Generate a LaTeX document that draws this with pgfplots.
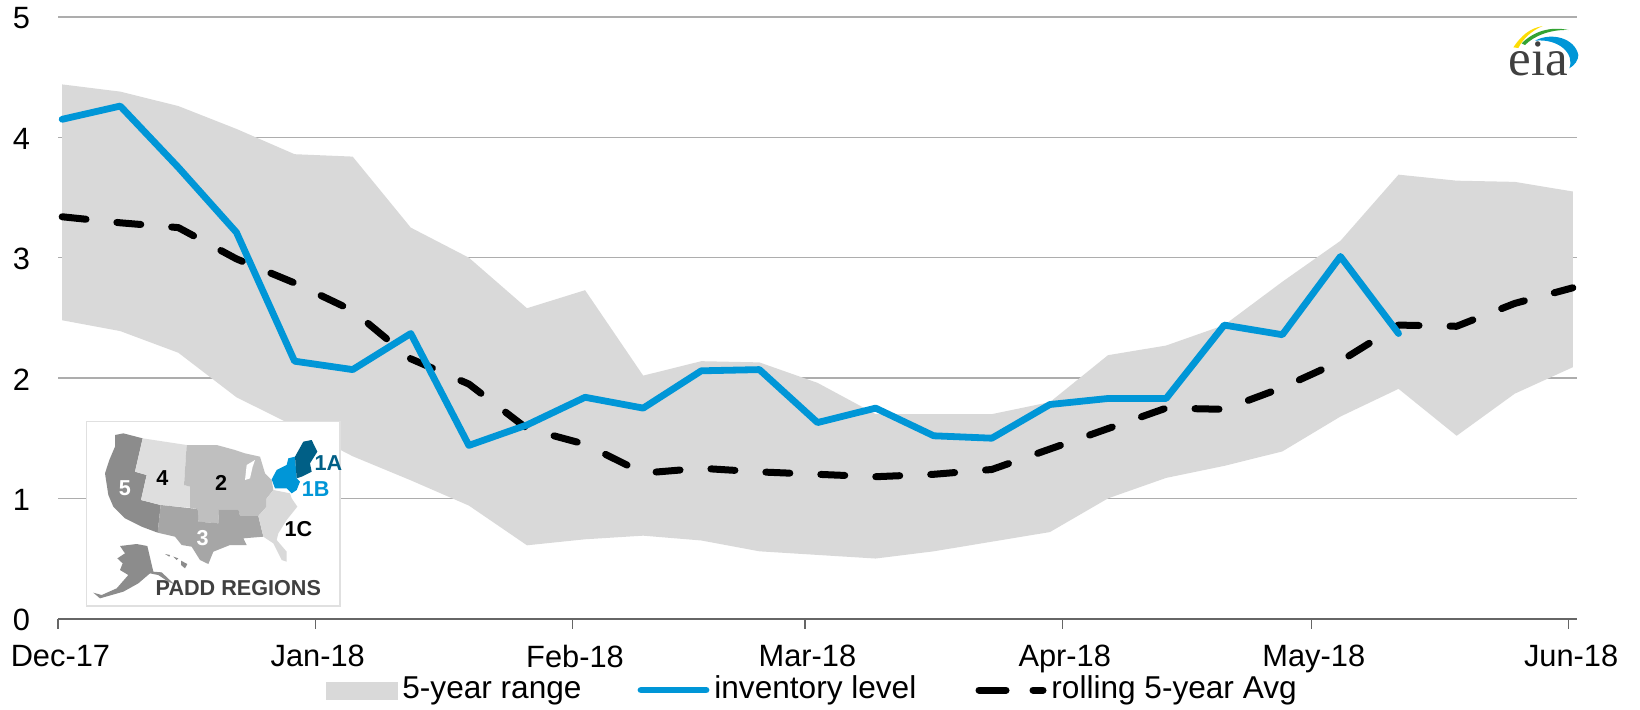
\documentclass[border=0pt]{standalone}
\usepackage{fontspec}
\setmainfont{Liberation Sans}
\newfontfamily\serif{Liberation Serif}
\usepackage{pgfplots}
\pgfplotsset{compat=1.18}
\usepgfplotslibrary{fillbetween}
\usepackage{pgfplotstable}
\definecolor{eiablue}{HTML}{0096D7}
\definecolor{eiadark}{HTML}{005F86}
\definecolor{band}{HTML}{D9D9D9}
\pgfplotstableread{
x up lo
0 4.44 2.48
7 4.38 2.39
14 4.26 2.21
21 4.07 1.84
28 3.86 1.60
35 3.84 1.35
42 3.25 1.15
49 3.00 0.94
56 2.58 0.61
63 2.73 0.66
70 2.02 0.69
77 2.14 0.65
84 2.13 0.56
91 1.96 0.53
98 1.70 0.50
105 1.70 0.56
112 1.70 0.64
119 1.80 0.72
126 2.19 1.00
133 2.27 1.17
140 2.44 1.27
147 2.80 1.39
154 3.14 1.68
161 3.69 1.91
168 3.64 1.52
175 3.63 1.87
182 3.55 2.09
}\rangetable
\pgfplotstableread{
x y
0 4.15
7 4.26
14 3.75
21 3.21
28 2.14
35 2.07
42 2.37
49 1.44
56 1.61
63 1.84
70 1.75
77 2.06
84 2.07
91 1.63
98 1.75
105 1.52
112 1.50
119 1.78
126 1.83
133 1.83
140 2.44
147 2.36
154 3.01
161 2.37
}\invtable
\pgfplotstableread{
x y
0 3.34
7 3.29
14 3.25
21 2.99
28 2.79
35 2.56
42 2.16
49 1.95
56 1.58
63 1.45
70 1.21
77 1.25
84 1.22
91 1.20
98 1.18
105 1.20
112 1.24
119 1.41
126 1.58
133 1.75
140 1.74
147 1.92
154 2.14
161 2.44
168 2.43
175 2.62
182 2.75
}\avgtable
\begin{document}
\begin{tikzpicture}
\path (0pt,0pt) rectangle (820pt,-354.5pt);
\begin{axis}[
  at={(29pt,-309.35pt)}, anchor=south west,
  scale only axis, width=759.5pt, height=300.85pt,
  xmin=-0.5, xmax=182.5, ymin=0, ymax=5,
  axis y line=left, axis x line=bottom,
  x axis line style={draw=black!60,line width=1pt,-},
  y axis line style={draw=none,-},
  xtick={-0.5,30.5,61.5,89.5,120.5,150.5,181.5},
  xticklabels={Dec-17,Jan-18,Feb-18,Mar-18,Apr-18,May-18,Jun-18},
  ytick={0,1,2,3,4,5},
  ymajorgrids, grid style={draw=black!32,line width=0.6pt},
  y tick style={draw=none},
  x tick style={draw=black!60,line width=0.6pt},
  tick align=outside, major tick length=5pt,
  tick label style={font=\fontsize{15.4}{15.4}\selectfont},
  /pgf/number format/assume math mode=true,
  xticklabel style={yshift=-4.7pt,xshift=1.2pt},
  yticklabel style={xshift=-5.5pt,yshift=-0.7pt},
  clip=false,
]
\addplot[draw=none,name path=up,forget plot] table[x=x,y=up] {\rangetable};
\addplot[draw=none,name path=lo,forget plot] table[x=x,y=lo] {\rangetable};
\addplot[band,draw=none] fill between[of=up and lo];
\addplot[black,line width=3.5pt,dash pattern=on 12pt off 15.5pt,line cap=round,line join=round] table[x=x,y=y] {\avgtable};
\addplot[eiablue,line width=3.4pt,line cap=round,line join=round] table[x=x,y=y] {\invtable};
\end{axis}
\begin{scope}[x=0.5pt,y=-0.5pt]
% legend
\fill[band] (326,682) rectangle (398,700);
\node[anchor=base west,inner sep=0,font=\fontsize{15.8}{16}\selectfont] at (402,698) {5-year range};
\draw[eiablue,line width=3.4pt,line cap=round] (641,690) -- (706,690);
\node[anchor=base west,inner sep=0,font=\fontsize{15.8}{16}\selectfont] at (714,698) {inventory level};
\draw[black,line width=3.5pt,line cap=round] (979,690) -- (1006,690) (1033,690) -- (1043,690);
\node[anchor=base west,inner sep=0,font=\fontsize{15.8}{16}\selectfont] at (1051,698) {rolling 5-year Avg};
% PADD map
\begin{scope}[shift={(70,410)},x=0.1666667pt,y=-0.1666667pt]
\fill[white] (50,35) rectangle (810,588);
\draw[black!12,line width=0.6pt] (50,35) rectangle (810,588);
\fill[black!45] (135,75)--(160,70)--(218,85)--(195,185)--(230,195)--(213,270)--(272,285)--(263,368)--(215,350)--(165,325)--(130,290)--(115,255)--(105,190)--(118,150)--(135,110)--cycle;
\fill[black!13] (218,85)--(350,105)--(342,225)--(360,230)--(360,293)--(272,285)--(213,270)--(230,195)--(195,185)--cycle;
\fill[black!25] (350,105)--(440,105)--(495,120)--(525,130)--(570,140)--(585,190)--(605,210)--(610,240)--(590,265)--(590,290)--(565,318)--(510,318)--(505,298)--(447,298)--(445,340)--(385,335)--(383,297)--(360,293)--(360,230)--(342,225)--cycle;
\fill[white] (555,150)--(530,165)--(525,210)--(540,205)--(548,170)--cycle;
\fill[black!35] (272,285)--(383,297)--(385,335)--(445,340)--(447,298)--(505,298)--(510,318)--(565,318)--(580,380)--(520,385)--(530,405)--(480,405)--(430,425)--(415,462)--(390,450)--(365,410)--(335,405)--(315,380)--(263,368)--cycle;
\fill[black!15] (590,265)--(610,240)--(660,250)--(665,265)--(682,290)--(650,330)--(625,370)--(620,390)--(650,425)--(650,455)--(635,450)--(610,400)--(580,380)--(565,318)--(590,290)--cycle;
\fill[eiablue] (605,208)--(620,180)--(650,165)--(655,145)--(675,140)--(680,205)--(690,215)--(680,240)--(665,250)--(650,235)--(615,235)--cycle;
\fill[eiadark] (675,140)--(700,95)--(725,90)--(742,125)--(720,160)--(725,185)--(695,200)--(680,205)--cycle;
\fill[black!45] (150,408)--(200,402)--(232,408)--(250,485)--(275,487)--(312,522)--(295,515)--(265,495)--(240,490)--(205,520)--(160,545)--(90,565)--(70,548)--(95,555)--(140,535)--(175,495)--(150,480)--(158,460)--(142,445)--(165,430)--cycle;
\fill[black!45] (285,432)--(300,435)--(298,440)--cycle (310,440)--(325,445)--(320,450)--cycle (333,452)--(352,462)--(345,475)--(333,465)--cycle;
\begin{scope}[every node/.style={inner sep=0,font=\fontsize{10.8}{11}\selectfont\bfseries}]
\node[white] at (165,235) {5};
\node at (277,205) {4};
\node at (453,218) {2};
\node[white] at (398,384) {3};
\node at (685,357) {1C};
\node[text=eiadark] at (775,158) {1A};
\node[text=eiablue] at (737,237) {1B};
\node[text=black!75] at (505,535) {PADD REGIONS};
\end{scope}
\end{scope}
% logo
\begin{scope}[shift={(1480,10)},x=0.1666667pt,y=-0.1666667pt]
\fill[yellow!80!orange] (100,112) .. controls (125,75) and (150,55) .. (188,48) .. controls (155,62) and (130,85) .. (115,114) -- cycle;
\fill[green!55!black!80] (125,100) .. controls (160,65) and (210,48) .. (265,60) .. controls (215,58) and (165,75) .. (135,105) -- cycle;
\fill[eiablue] (165,92) .. controls (215,65) and (285,85) .. (295,135) .. controls (295,150) and (285,165) .. (268,175) .. controls (285,130) and (235,85) .. (165,92) -- cycle;
\node[anchor=base,inner sep=0,text=black!75,font=\serif\fontsize{25.5}{26}\selectfont] at (175,195) {eia};
\end{scope}
\end{scope}
\end{tikzpicture}
\end{document}
